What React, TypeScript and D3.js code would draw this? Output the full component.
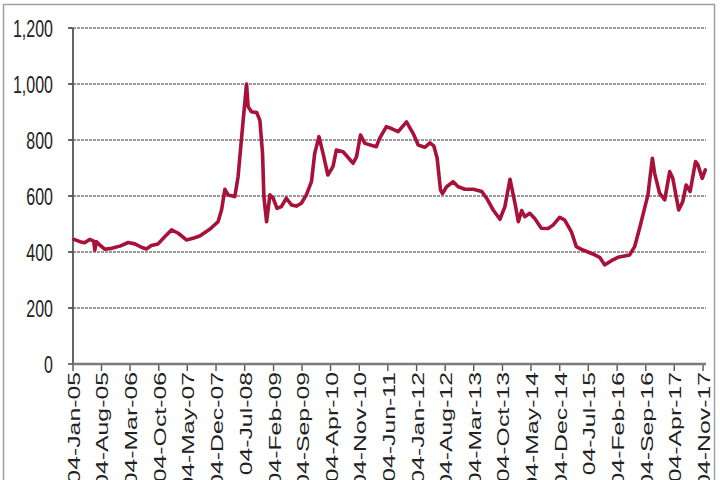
import React from 'react';
import * as d3 from 'd3';

const dates = [
  "2005-01-11", "2005-02-25", "2005-03-31", "2005-05-08", "2005-06-07", "2005-06-15", "2005-06-28",
  "2005-07-22", "2005-08-28", "2005-10-18", "2005-12-19", "2006-02-19", "2006-04-09", "2006-05-28",
  "2006-07-04", "2006-08-10", "2006-09-29", "2006-11-19", "2007-01-08", "2007-02-26", "2007-04-28",
  "2007-06-16", "2007-08-05", "2007-10-18", "2007-12-19", "2008-01-14", "2008-02-08", "2008-03-03",
  "2008-04-22", "2008-05-16", "2008-06-23", "2008-07-18", "2008-07-30", "2008-08-24", "2008-10-01",
  "2008-10-25", "2008-11-14", "2008-11-24", "2008-12-14", "2009-01-08", "2009-02-01", "2009-03-02",
  "2009-04-03", "2009-05-10", "2009-06-17", "2009-07-23", "2009-08-30", "2009-10-06", "2009-11-13",
  "2009-12-07", "2010-01-08", "2010-02-07", "2010-03-15", "2010-04-22", "2010-05-17", "2010-07-06",
  "2010-09-19", "2010-10-14", "2010-11-13", "2010-12-15", "2011-03-10", "2011-04-04", "2011-05-24",
  "2011-07-01", "2011-08-20", "2011-10-21", "2011-12-09", "2012-01-16", "2012-02-22", "2012-03-05",
  "2012-04-12", "2012-05-11", "2012-06-05", "2012-06-30", "2012-07-15", "2012-08-14", "2012-10-02",
  "2012-11-09", "2012-12-29", "2013-03-01", "2013-05-03", "2013-06-08", "2013-07-27", "2013-09-15",
  "2013-10-22", "2013-11-29", "2014-01-05", "2014-01-30", "2014-02-24", "2014-03-19", "2014-04-25",
  "2014-06-01", "2014-07-20", "2014-09-08", "2014-10-15", "2014-12-04", "2015-01-10", "2015-02-28",
  "2015-04-06", "2015-05-25", "2015-08-07", "2015-09-27", "2015-11-03", "2015-12-23", "2016-02-10",
  "2016-03-30", "2016-05-06", "2016-06-13", "2016-07-20", "2016-08-26", "2016-09-20", "2016-10-23",
  "2016-11-09", "2016-12-16", "2017-01-23", "2017-03-01", "2017-03-24", "2017-05-07", "2017-06-06",
  "2017-07-01", "2017-07-31", "2017-09-09", "2017-09-27", "2017-10-29", "2017-11-21",
];
const values = [
  445, 437, 433, 445, 439, 407, 437,
  425, 410, 413, 421, 434, 429, 417,
  411, 423, 429, 455, 479, 467, 443,
  449, 457, 481, 508, 550, 624, 604,
  598, 669, 871, 1000, 919, 901, 898,
  871, 752, 598, 508, 604, 592, 556,
  562, 592, 568, 564, 574, 604, 651,
  752, 812, 752, 675, 705, 764, 758,
  717, 740, 818, 788, 776, 806, 848,
  841, 830, 865, 824, 782, 776, 774,
  790, 779, 735, 621, 609, 633, 651,
  633, 624, 624, 616, 592, 550, 517,
  562, 660, 574, 508, 548, 526, 538,
  520, 485, 484, 496, 524, 514, 473,
  419, 407, 393, 381, 354, 369, 381,
  386, 389, 419, 485, 556, 604, 735,
  681, 610, 586, 687, 663, 550, 580,
  639, 616, 723, 711, 663, 693,
];

const yTicks = [0, 200, 400, 600, 800, 1000, 1200];
const xTickLabels = [
  "04-Jan-05", "04-Aug-05", "04-Mar-06", "04-Oct-06", "04-May-07", "04-Dec-07", "04-Jul-08",
  "04-Feb-09", "04-Sep-09", "04-Apr-10", "04-Nov-10", "04-Jun-11", "04-Jan-12", "04-Aug-12",
  "04-Mar-13", "04-Oct-13", "04-May-14", "04-Dec-14", "04-Jul-15", "04-Feb-16", "04-Sep-16",
  "04-Apr-17", "04-Nov-17",
];

const W = 720;
const H = 480;
const FONT = "'Liberation Sans', Arial, sans-serif";
const STRETCH = 1.55; // the source picture is stretched vertically

export default function App() {
  const parseIso = d3.timeParse("%Y-%m-%d");
  const parseTick = d3.timeParse("%d-%b-%y");
  const data = dates.map((d, i) => ({ date: parseIso(d) as Date, value: values[i] }));
  const tickDates = xTickLabels.map(t => parseTick(t) as Date);

  const x = d3.scaleTime()
    .domain([parseIso("2005-01-04") as Date, parseIso("2017-11-26") as Date])
    .range([73, 706]);
  const y = d3.scaleLinear().domain([0, 1200]).range([364, 28]);

  const line = d3.line<{ date: Date; value: number }>()
    .x(d => x(d.date))
    .y(d => y(d.value));

  const fmt = d3.format(",");
  const [x0, x1] = x.range();

  return (
    <svg width={W} height={H} style={{ position: 'absolute', left: 0, top: 0, background: '#fff' }}>
      <rect x={0} y={0} width={W} height={H} fill="#fff" />
      {/* frame */}
      <rect x={3.5} y={4.5} width={711} height={H + 10} fill="none" stroke="#a0a0a0" strokeWidth={1.5} />

      {/* gridlines */}
      {yTicks.filter(t => t > 0).map(t => (
        <line key={t} x1={x0 - 4} x2={x1} y1={y(t)} y2={y(t)}
          stroke="#9a9a9a" strokeWidth={1.8} strokeDasharray="3 1" />
      ))}
      {yTicks.map(t => (
        <line key={'yt' + t} x1={x0 - 5} x2={x0} y1={y(t)} y2={y(t)} stroke="#555" strokeWidth={1.6} />
      ))}

      {/* y axis */}
      <line x1={x0} x2={x0} y1={y(1200)} y2={y(0)} stroke="#555" strokeWidth={1.8} />
      {yTicks.map(t => (
        <text key={'yl' + t} transform={`translate(53,${y(t) + 9}) scale(1,${STRETCH})`}
          textAnchor="end" fontFamily={FONT} fontSize={16} fill="#222">
          {fmt(t)}
        </text>
      ))}

      {/* x axis */}
      {tickDates.map((d, i) => (
        <line key={'xt' + i} x1={x(d)} x2={x(d)} y1={y(0)} y2={y(0) + 7} stroke="#555" strokeWidth={1.4} />
      ))}
      <line x1={x0} x2={x1} y1={y(0)} y2={y(0)} stroke="#7a7a7a" strokeWidth={2.6} />
      {tickDates.map((d, i) => (
        <text key={'xl' + i}
          transform={`translate(${x(d) + 7},372) scale(1,${STRETCH}) rotate(-90)`}
          textAnchor="end" fontFamily={FONT} fontSize={16} fill="#222">
          {xTickLabels[i]}
        </text>
      ))}

      {/* series */}
      <path d={line(data) ?? ''} fill="none" stroke="#a8123a" strokeWidth={3.6}
        strokeLinejoin="round" strokeLinecap="round" />
    </svg>
  );
}
